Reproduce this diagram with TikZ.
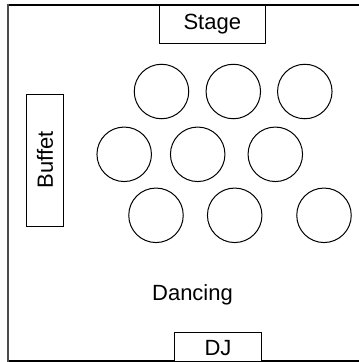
\documentclass[tikz,border=0pt]{standalone}
\usepackage{fontspec}
\setmainfont{Liberation Sans}
\begin{document}
\begin{tikzpicture}[x=1pt,y=-1pt,
  lbl/.style={font=\fontsize{22}{25}\selectfont, inner sep=0pt},
  boxn/.style={draw=black, line width=1pt, fill=white},
  tablec/.style={draw=black, line width=1pt, circle, minimum size=54.5pt, inner sep=0pt}]
\useasboundingbox (0,0) rectangle (359,362);
% walls
\draw[line width=1.3pt, black] (7.5,5) -- (360,5);
\draw[line width=1.3pt, black] (7.5,361) -- (360,361);
\draw[line width=2pt, black!70] (7.5,4.4) -- (7.5,361.6);
% stage
\node[boxn, minimum width=106pt, minimum height=38.5pt, inner sep=0pt] (stage) at (212.3,24.5) {};
\node[lbl] (stagel) at (stage.center) {Stage};
% buffet
\node[boxn, minimum width=36.5pt, minimum height=132pt, inner sep=0pt] (buffet) at (45,160) {};
\node[lbl, rotate=90] (buffetl) at (buffet.center) {Buffet};
% DJ
\node[boxn, minimum width=86.5pt, minimum height=28.5pt, inner sep=0pt] (dj) at (218,347) {};
\node[lbl] (djl) at (218,348) {DJ};
% dancing
\node[lbl] (dancing) at (192.5,294.5) {Dancing};
% tables
\node[tablec] (t1) at (161.5,91.5) {};
\node[tablec] (t2) at (233.3,91.5) {};
\node[tablec] (t3) at (304.8,91.5) {};
\node[tablec] (t4) at (124.2,154.3) {};
\node[tablec] (t5) at (197.7,154.3) {};
\node[tablec] (t6) at (275.3,154.3) {};
\node[tablec] (t7) at (156,215.3) {};
\node[tablec] (t8) at (234.7,215.3) {};
\node[tablec] (t9) at (324,215.3) {};
\end{tikzpicture}
\end{document}
